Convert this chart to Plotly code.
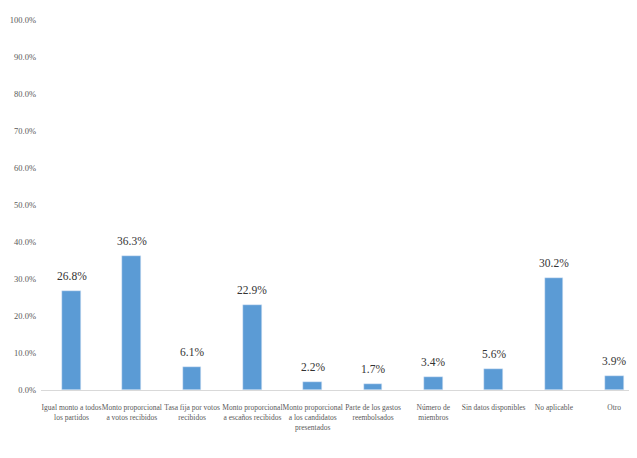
import plotly.graph_objects as go

categories = [
    "Igual monto a todos<br>los partidos",
    "Monto proporcional<br>a votos recibidos",
    "Tasa fija por votos<br>recibidos",
    "Monto proporcional<br>a escaños recibidos",
    "Monto proporcional<br>a los candidatos<br>presentados",
    "Parte de los gastos<br>reembolsados",
    "Número de<br>miembros",
    "Sin datos disponibles",
    "No aplicable",
    "Otro",
]
values = [26.8, 36.3, 6.1, 22.9, 2.2, 1.7, 3.4, 5.6, 30.2, 3.9]
labels = [f"{v:.1f}%" for v in values]
y_ticks = [0, 10, 20, 30, 40, 50, 60, 70, 80, 90, 100]

serif = "Liberation Serif, Times New Roman, serif"
x_pos = list(range(len(categories)))

fig = go.Figure(
    go.Bar(
        x=x_pos,
        y=values,
        marker=dict(color="#5B9BD5"),
        width=0.31,
    )
)

for xi, v, lab in zip(x_pos, values, labels):
    fig.add_annotation(
        x=xi, y=v, text=lab, showarrow=False,
        xanchor="center", yanchor="bottom", yshift=7,
        font=dict(family=serif, size=11.5, color="#333333"),
    )

# page body has an 8px default margin; figure is sized so that it fills the window
fig.update_layout(
    width=629,
    height=450,
    margin=dict(l=33, r=0, t=12, b=68),
    plot_bgcolor="white",
    paper_bgcolor="white",
    showlegend=False,
    font=dict(family=serif, size=10, color="#595959"),
    bargap=0,
)

fig.update_xaxes(
    tickmode="array",
    tickvals=x_pos,
    ticktext=categories,
    range=[-0.506, 9.378],
    tickangle=0,
    automargin=False,
    showline=True,
    linecolor="#D9D9D9",
    linewidth=1,
    ticks="",
    ticklabelstandoff=10,
    showgrid=False,
    tickfont=dict(family=serif, size=7.5, color="#595959"),
)

fig.update_yaxes(
    range=[0, 100],
    tickvals=y_ticks,
    ticktext=[f"{t:.1f}%" for t in y_ticks],
    automargin=False,
    showgrid=False,
    zeroline=False,
    showline=False,
    ticks="",
    ticklabelstandoff=4,
    tickfont=dict(family=serif, size=8.5, color="#595959"),
)

fig.write_html("out.html")
